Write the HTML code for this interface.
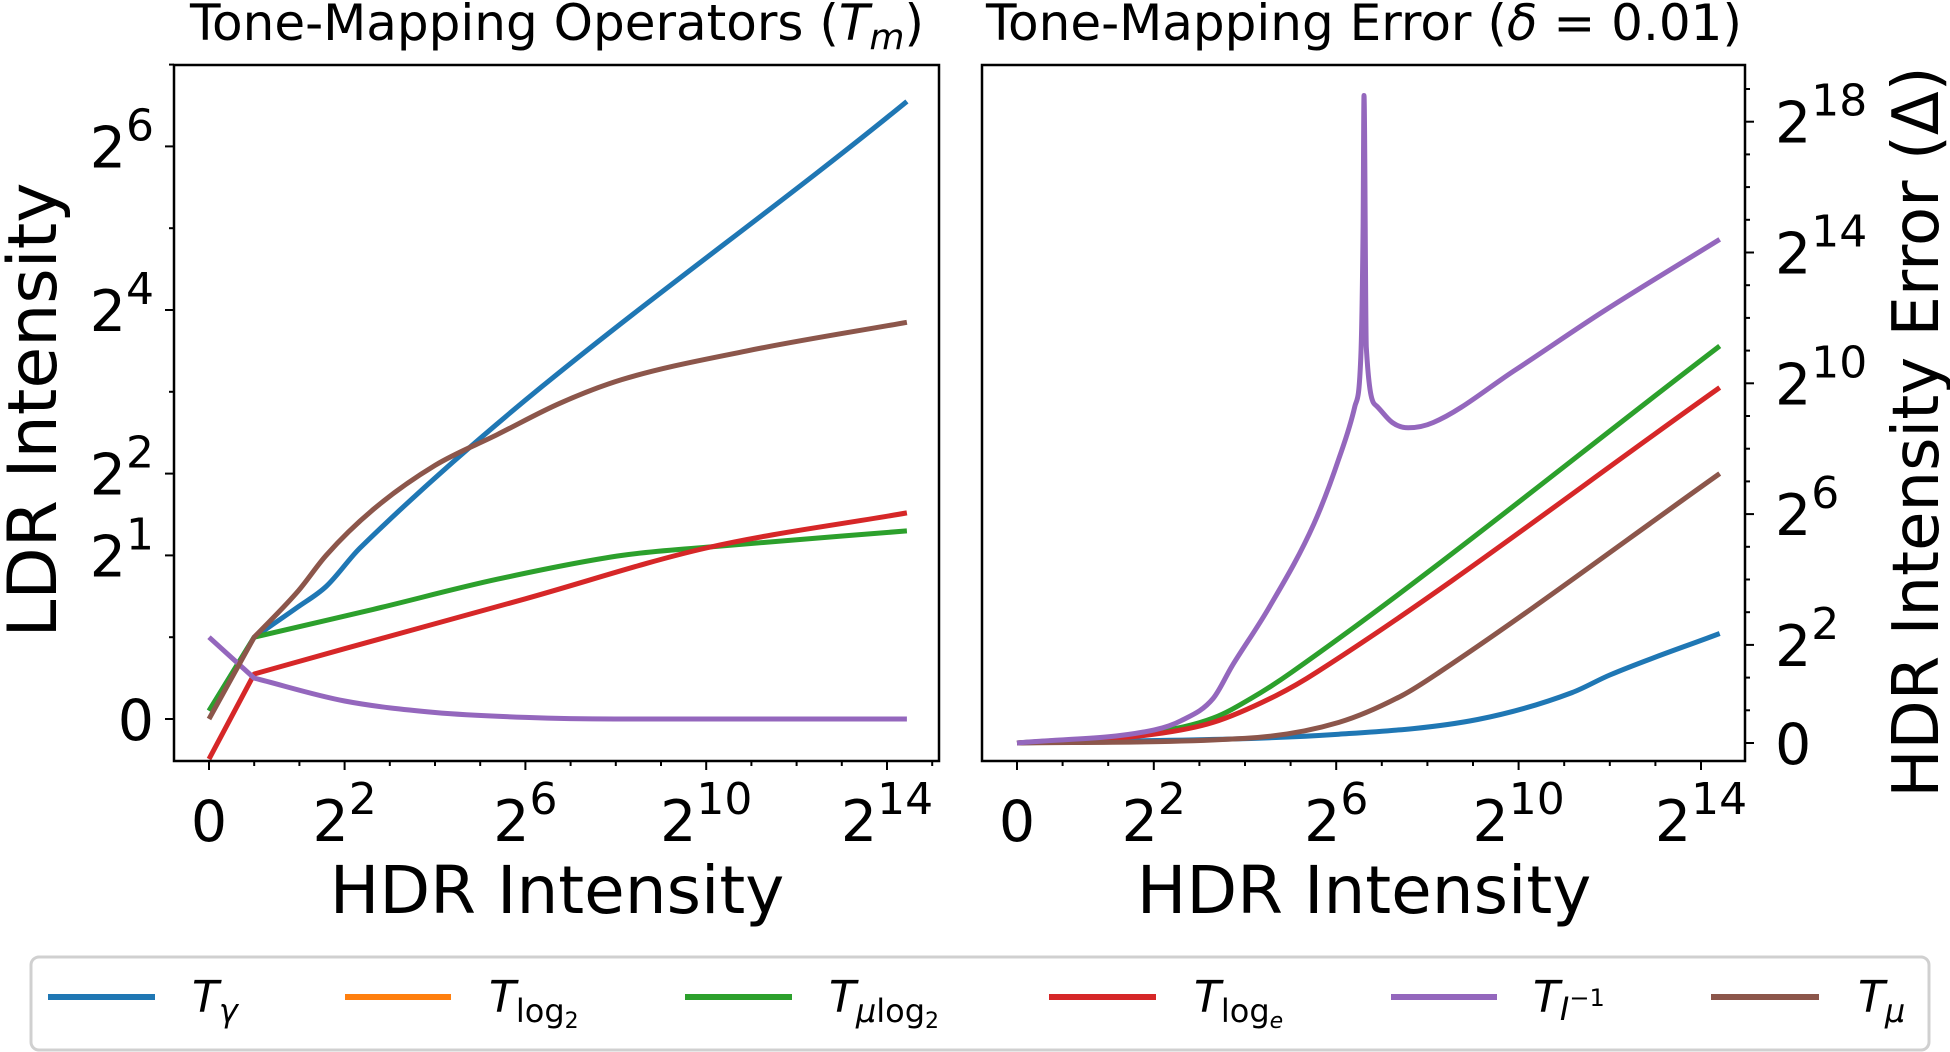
<!DOCTYPE html>
<html><head><meta charset="utf-8"><style>
body{margin:0;background:#fff;}
svg{display:block;font-family:"DejaVu Sans","Liberation Sans",sans-serif;}
</style></head><body>
<svg id="chart" width="1950" height="1052" viewBox="0 0 1950 1052" style="position:absolute;left:0;top:0">
<g id="left"></g>
<g id="right"></g>
</svg>
<script>
// x/y values are log2 exponents; -1 represents the value 0
const colors = ["#1f77b4","#ff7f0e","#2ca02c","#d62728","#9467bd","#8c564b"];
const xTickVals = [-1,2,6,10,14];
const xTickLabels = ["0","2|2","2|6","2|10","2|14"];
const leftYTickVals = [-1,1,2,4,6];
const leftYTickLabels = ["0","2|1","2|2","2|4","2|6"];
const rightYTickVals = [-1,2,6,10,14,18];
const rightYTickLabels = ["0","2|2","2|6","2|10","2|14","2|18"];

const leftBlueX = [-1,0,0.97,1.59,2.34,14.44];
const leftBlueY = [-0.9,0,0.37,0.62,1.09,6.55];
const leftBrownX = [-1,0,0.98,1.59,2.63,4.0,5.39,6.76,8.14,10.9,14.44];
const leftBrownY = [-1,0,0.57,1.0,1.56,2.10,2.48,2.86,3.15,3.50,3.85];
const leftGreenX = [-1,0,2.63,5.39,8.14,10,14.44];
const leftGreenY = [-0.9,0,0.34,0.71,1.0,1.1,1.3];
const leftRedX = [-1,0,2,6,10,14.44];
const leftRedY = [-1.49,-0.45,-0.14,0.47,1.09,1.52];
const leftPurpleX = [-1,0,2,4,6,8,14.44];
const leftPurpleY = [0,-0.5,-0.78,-0.92,-0.98,-1,-1];

const rightPurpleX = [-1,2.01,2.61,3.30,3.72,4.54,5.51,6.06,6.41,6.54,6.59,6.61,6.66,6.89,7.23,7.58,8.13,9.92,11.86,14.41];
const rightPurpleY = [-1,-0.6,-0.31,0.36,1.36,3.17,5.7,7.7,9.3,10.8,14.8,18.8,11.1,9.3,8.8,8.64,8.8,10.4,12.2,14.4];
const rightGreenX = [-1,2.01,3.30,4.13,5.03,14.41];
const rightGreenY = [-1,-0.67,-0.24,0.36,1.17,11.14];
const rightRedX = [-1,2.01,3.30,4.68,5.58,14.41];
const rightRedY = [-1,-0.73,-0.37,0.45,1.17,9.87];
const rightBrownX = [-1,4.0,6.06,7.44,8.27,14.41];
const rightBrownY = [-1,-0.86,-0.37,0.45,1.17,7.24];
const rightBlueX = [-1,6.06,9.1,11.17,12.0,14.41];
const rightBlueY = [-1,-0.73,-0.28,0.54,1.08,2.35];

const NS="http://www.w3.org/2000/svg";
function mk(tag,parent){const e=document.createElementNS(NS,tag);parent.appendChild(e);return e;}

function monoPath(px,py){
  const n=px.length;
  let p='M'+px[0].toFixed(1)+','+py[0].toFixed(1);
  if(n<3){for(let i=1;i<n;i++)p+=' L'+px[i].toFixed(1)+','+py[i].toFixed(1);return p;}
  const d=[],m=[];
  for(let i=0;i<n-1;i++)d.push((py[i+1]-py[i])/(px[i+1]-px[i]));
  m[0]=d[0];m[n-1]=d[n-2];
  for(let i=1;i<n-1;i++){m[i]=(d[i-1]*d[i]<=0)?0:(d[i-1]+d[i])/2;}
  for(let i=0;i<n-1;i++){if(d[i]===0){m[i]=0;m[i+1]=0;continue;}
    const a=m[i]/d[i],b=m[i+1]/d[i],s=a*a+b*b;if(s>9){const t=3/Math.sqrt(s);m[i]=t*a*d[i];m[i+1]=t*b*d[i];}}
  for(let i=0;i<n-1;i++){const h=(px[i+1]-px[i])/3;
    p+=' C'+(px[i]+h).toFixed(1)+','+(py[i]+m[i]*h).toFixed(1)+' '+(px[i+1]-h).toFixed(1)+','+(py[i+1]-m[i+1]*h).toFixed(1)+' '+px[i+1].toFixed(1)+','+py[i+1].toFixed(1);}
  return p;
}

function addLabel(t,label,big,sup){
  const parts=label.split('|');
  t.setAttribute('font-size',big);
  t.textContent=parts[0];
  if(parts[1]){const s=mk('tspan',t);s.setAttribute('dy','-27');s.setAttribute('font-size',sup);s.textContent=parts[1];}
}

function panel(g,cfg){
  const xs=u=>cfg.x0+(u+1)*cfg.xu;
  const ys=u=>cfg.y0-(u+1)*cfg.yu;
  cfg.series.forEach(s=>{
    const p=mk('path',g);
    
    
    const px=s.x.map(xs),py=s.y.map(ys);
    let d;
    if(cfg.linearHead){
      d='M'+px[0].toFixed(1)+','+py[0].toFixed(1)+' '+monoPath(px.slice(1),py.slice(1)).replace('M','L');
    } else d=monoPath(px,py);
    p.setAttribute('d',d);
    p.setAttribute('fill','none');p.setAttribute('stroke',s.c);p.setAttribute('stroke-width','5');p.setAttribute('stroke-linejoin','round');
  });
  const r=mk('rect',g);
  
  
  r.setAttribute('x',cfg.L);r.setAttribute('y',cfg.T);r.setAttribute('width',cfg.R-cfg.L);r.setAttribute('height',cfg.B-cfg.T);
  r.setAttribute('fill','none');r.setAttribute('stroke','#000');r.setAttribute('stroke-width','2.5');
  for(let u=-1;u<=15;u++){const x=xs(u);if(x>cfg.R)break;const major=xTickVals.includes(u);
    const t=mk('line',g);t.setAttribute('x1',x);t.setAttribute('x2',x);t.setAttribute('y1',cfg.B);t.setAttribute('y2',cfg.B+(major?9:5));t.setAttribute('stroke','#000');t.setAttribute('stroke-width','2');}
  xTickVals.forEach((v,i)=>{
    const t=mk('text',g);
    
    
    t.setAttribute('x',xs(v));t.setAttribute('y',cfg.B+80);t.setAttribute('text-anchor','middle');
    addLabel(t,xTickLabels[i],'57','44');
  });
  const side=cfg.yRight?cfg.R:cfg.L, dir=cfg.yRight?1:-1;
  for(let u=-1;u<=cfg.yMaxMinor;u++){const y=ys(u);if(y<cfg.T-1)break;const major=cfg.yTicks.includes(u);
    const t=mk('line',g);t.setAttribute('y1',y);t.setAttribute('y2',y);t.setAttribute('x1',side);t.setAttribute('x2',side+dir*(major?9:5));t.setAttribute('stroke','#000');t.setAttribute('stroke-width','2');}
  cfg.yTicks.forEach((v,i)=>{
    const t=mk('text',g);
    
    
    t.setAttribute('y',ys(v)+21);
    if(cfg.yRight){t.setAttribute('x',side+30);t.setAttribute('text-anchor','start');}
    else{t.setAttribute('x',side-20);t.setAttribute('text-anchor','end');}
    addLabel(t,cfg.yLabels[i],'57','44');
  });
}

panel(document.getElementById('left'),{L:174,R:939,T:65,B:761,x0:209,xu:45.2,y0:719,yu:81.8,yRight:false,yMaxMinor:7,linearHead:true,
  yTicks:leftYTickVals,yLabels:leftYTickLabels,
  series:[{name:'line-t-gamma',c:colors[0],x:leftBlueX,y:leftBlueY},
          {name:'line-t-mu-log2',c:colors[2],x:leftGreenX,y:leftGreenY},
          {name:'line-t-loge',c:colors[3],x:leftRedX,y:leftRedY},
          {name:'line-t-inverse',c:colors[4],x:leftPurpleX,y:leftPurpleY},
          {name:'line-t-mu',c:colors[5],x:leftBrownX,y:leftBrownY}]});
panel(document.getElementById('right'),{L:982,R:1745,T:65,B:761,x0:1017,xu:45.6,y0:743,yu:32.7,yRight:true,yMaxMinor:20,linearHead:false,
  yTicks:rightYTickVals,yLabels:rightYTickLabels,
  series:[{name:'error-t-gamma',c:colors[0],x:rightBlueX,y:rightBlueY},
          {name:'error-t-mu-log2',c:colors[2],x:rightGreenX,y:rightGreenY},
          {name:'error-t-loge',c:colors[3],x:rightRedX,y:rightRedY},
          {name:'error-t-mu',c:colors[5],x:rightBrownX,y:rightBrownY},
          {name:'error-t-inverse',c:colors[4],x:rightPurpleX,y:rightPurpleY}]});
</script>
<svg style="position:absolute;left:0;top:0" width="1950" height="1052" font-family="DejaVu Sans, Liberation Sans, sans-serif">
  <text x="557" y="40" text-anchor="middle" font-size="50">Tone-Mapping Operators (<tspan font-style="italic">T</tspan><tspan font-style="italic" font-size="36" dy="9">m</tspan><tspan dy="-9">)</tspan></text>
  <text x="1364" y="40" text-anchor="middle" font-size="50">Tone-Mapping Error (<tspan font-style="italic">δ</tspan> = 0.01)</text>
  <text x="557" y="913" text-anchor="middle" font-size="66">HDR Intensity</text>
  <text x="1364" y="913" text-anchor="middle" font-size="66">HDR Intensity</text>
  <text transform="translate(56,410) rotate(-90)" text-anchor="middle" font-size="68">LDR Intensity</text>
  <text transform="translate(1938,432) rotate(-90)" text-anchor="middle" font-size="64">HDR Intensity Error (Δ)</text>
  <rect x="31" y="957" width="1898" height="93" rx="8" fill="#fff" stroke="#d0d0d0" stroke-width="3"/>
  <g stroke-width="6">
    <line x1="48" x2="155" y1="997" y2="997" stroke="#1f77b4"/>
    <line x1="345" x2="451" y1="997" y2="997" stroke="#ff7f0e"/>
    <line x1="685" x2="792" y1="997" y2="997" stroke="#2ca02c"/>
    <line x1="1049" x2="1156" y1="997" y2="997" stroke="#d62728"/>
    <line x1="1391" x2="1497" y1="997" y2="997" stroke="#9467bd"/>
    <line x1="1711" x2="1819" y1="997" y2="997" stroke="#8c564b"/>
  </g>
  <g font-size="44" font-style="italic">
    <text x="192" y="1012">T<tspan font-size="32" dy="10">γ</tspan></text>
    <text x="489" y="1012">T<tspan font-size="32" dy="10" font-style="normal">log</tspan><tspan font-size="22" dy="6" font-style="normal">2</tspan></text>
    <text x="829" y="1012">T<tspan font-size="32" dy="10">μ</tspan><tspan font-size="32" font-style="normal">log</tspan><tspan font-size="22" dy="6" font-style="normal">2</tspan></text>
    <text x="1194" y="1012">T<tspan font-size="32" dy="10" font-style="normal">log</tspan><tspan font-size="22" dy="6">e</tspan></text>
    <text x="1533" y="1012">T<tspan font-size="32" dy="8">I</tspan><tspan font-size="24" dy="-14" font-style="normal">−1</tspan></text>
    <text x="1858" y="1012">T<tspan font-size="32" dy="10">μ</tspan></text>
  </g>
</svg>
</body></html>
